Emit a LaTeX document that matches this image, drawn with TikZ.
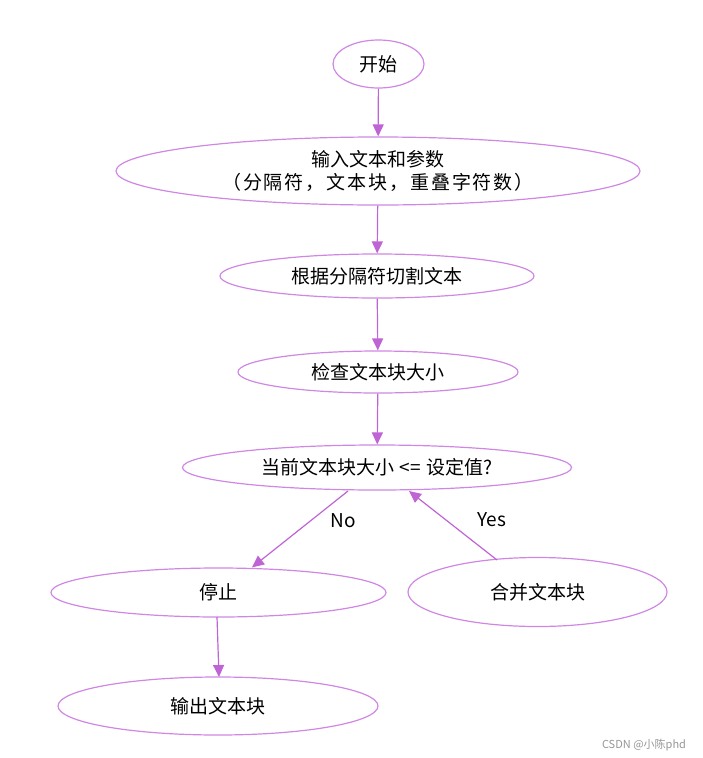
\documentclass[tikz,border=0pt]{standalone}
\usepackage{fontspec}
\setmainfont{Noto Sans CJK SC}
\usetikzlibrary{shapes.geometric,arrows.meta}
\definecolor{ellcol}{RGB}{208,135,228}
\definecolor{arrcol}{RGB}{190,100,212}
\definecolor{wmcol}{RGB}{150,150,150}
\tikzset{
  ell/.style={ellipse,draw=ellcol,line width=1.2pt,inner sep=0pt,align=center,
    font=\fontsize{19}{23}\selectfont},
  flow/.style={draw=arrcol,line width=1.2pt,-{Triangle[length=12pt,width=11pt]},color=arrcol},
  lbl/.style={font=\fontsize{19}{22}\selectfont}
}
\begin{document}
\begin{tikzpicture}[x=1pt,y=-1pt]
\useasboundingbox (0,0) rectangle (703,758);
\node[ell,minimum width=91,minimum height=48] (start) at (378.5,64) {开始};
\node[ell,minimum width=524,minimum height=68] (input) at (378,171) {输入文本和参数\\{\addfontfeatures{LetterSpace=10}（分隔符，文本块，重叠字符数）}};
\node[ell,minimum width=314,minimum height=44] (split) at (377,276) {根据分隔符切割文本};
\node[ell,minimum width=280,minimum height=42] (check) at (378,372) {检查文本块大小};
\node[ell,minimum width=389,minimum height=45] (cond) at (377,467.5) {当前文本块大小\hspace{5pt}<=\hspace{5pt}设定值?};
\node[ell,minimum width=335,minimum height=49] (stop) at (218.5,592.5) {停止};
\node[ell,minimum width=259,minimum height=69] (merge) at (537.5,592) {合并文本块};
\node[ell,minimum width=320,minimum height=58] (output) at (218,706) {输出文本块};
\coordinate (c1) at (348,491);
\coordinate (c2) at (497,560);
\coordinate (c3) at (217,617);
\coordinate (c4) at (219,677);
\draw[flow] (start) -- (input);
\draw[flow] (input) -- (split);
\draw[flow] (split) -- (check);
\draw[flow] (check) -- (cond);
\draw[flow] (c1) -- (stop.north -| 252,0);
\draw[flow] (c2) -- (409,491);
\draw[flow] (c3) -- (c4);
\node[lbl] (no) at (343,521) {No};
\node[lbl] (yes) at (492,520) {Yes};
\node[font=\fontsize{11}{13}\selectfont,text=wmcol] (wm) at (644,745) {CSDN @小陈phd};
\end{tikzpicture}
\end{document}
